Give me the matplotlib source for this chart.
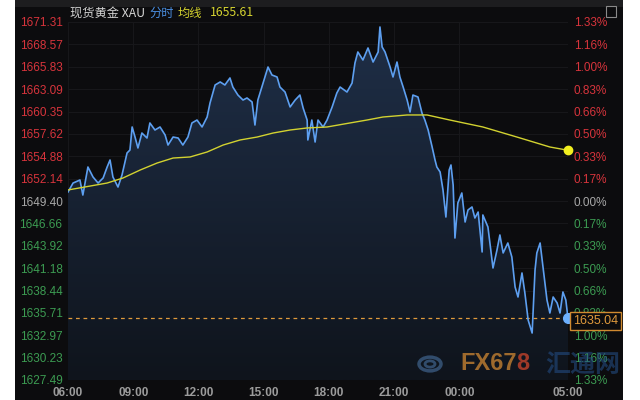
import matplotlib
matplotlib.use("Agg")
import matplotlib.pyplot as plt
import numpy as np
from matplotlib.colors import LinearSegmentedColormap
from matplotlib.patches import Rectangle, Circle

# ---------------- data ----------------
minutes = [0, 14, 33, 41, 55, 69, 83, 97, 108, 116, 124, 138, 149, 163, 171, 177, 185, 193,
           204, 218, 226, 240, 254, 268, 276, 290, 304, 317, 331, 342, 356, 370, 384, 392,
           406, 420, 433, 447, 455, 469, 483, 494, 508, 516, 524, 535, 552, 563, 577, 585,
           599, 613, 627, 640, 649, 660, 662, 673, 682, 690, 704, 715, 729, 742, 751, 770,
           784, 792, 800, 814, 828, 842, 856, 861, 867, 875, 889, 897, 908, 916, 925, 936,
           944, 952, 966, 977, 985, 994, 1005, 1013, 1018, 1027, 1035, 1043, 1052, 1057,
           1063, 1068, 1076, 1087, 1096, 1104, 1115, 1123, 1132, 1143, 1145, 1159, 1173,
           1184, 1192, 1201, 1214, 1225, 1234, 1242, 1253, 1261, 1270, 1281, 1289, 1294,
           1303, 1311, 1322, 1330, 1339, 1350, 1358, 1366, 1374, 1380]
price = [1650.50, 1651.60, 1651.97, 1650.13, 1653.56, 1652.34, 1651.60, 1652.22, 1653.56,
         1654.42, 1652.34, 1651.11, 1652.58, 1655.28, 1655.64, 1658.46, 1657.23, 1655.89,
         1657.72, 1657.11, 1658.95, 1658.09, 1658.46, 1657.48, 1656.25, 1657.23, 1657.11,
         1656.25, 1657.23, 1658.95, 1659.31, 1658.46, 1659.68, 1661.40, 1663.60, 1663.97,
         1663.60, 1664.46, 1663.35, 1662.37, 1661.76, 1662.01, 1661.52, 1658.70, 1661.76,
         1663.35, 1665.80, 1664.82, 1664.58, 1663.35, 1662.74, 1660.91, 1661.76, 1662.37,
         1660.78, 1659.31, 1656.87, 1659.31, 1656.62, 1659.31, 1658.46, 1659.31, 1660.91,
         1662.62, 1663.35, 1662.74, 1663.84, 1666.29, 1667.64, 1666.66, 1668.13, 1666.41,
         1667.64, 1670.70, 1668.25, 1667.64, 1665.80, 1664.58, 1666.41, 1664.58, 1663.35,
         1661.76, 1660.29, 1662.37, 1662.13, 1660.17, 1659.31, 1658.09, 1656.01, 1654.42,
         1653.56, 1652.95, 1650.75, 1647.44, 1653.19, 1653.81, 1651.36, 1644.87, 1649.16,
         1650.38, 1646.83, 1648.30, 1648.67, 1647.32, 1648.05, 1643.16, 1647.69, 1646.22,
         1641.20, 1643.40, 1645.24, 1643.04, 1644.26, 1642.55, 1638.87, 1637.65, 1640.59,
         1638.14, 1634.83, 1633.24, 1640.95, 1643.04, 1644.26, 1641.32, 1637.28, 1635.69,
         1637.65, 1636.92, 1635.69, 1638.26, 1637.28, 1635.04]

avg_minutes = [0, 108, 152, 199, 246, 290, 337, 384, 428, 475, 522, 566, 613, 660, 715,
               778, 825, 869, 936, 991, 1054, 1145, 1239, 1330, 1380]
avg_price = [1650.75, 1651.60, 1652.22, 1653.19, 1654.05, 1654.66, 1654.79, 1655.40,
             1656.25, 1656.87, 1657.23, 1657.72, 1658.09, 1658.34, 1658.46, 1658.95,
             1659.31, 1659.68, 1659.93, 1659.93, 1659.31, 1658.46, 1657.23, 1656.01, 1655.61]

y_ticks = [1671.31, 1668.57, 1665.83, 1663.09, 1660.35, 1657.62, 1654.88, 1652.14, 1649.40,
           1646.66, 1643.92, 1641.18, 1638.44, 1635.71, 1632.97, 1630.23, 1627.49]
pct_labels = ["1.33%", "1.16%", "1.00%", "0.83%", "0.66%", "0.50%", "0.33%", "0.17%", "0.00%",
              "0.17%", "0.33%", "0.50%", "0.66%", "0.83%", "1.00%", "1.16%", "1.33%"]
prev_close = 1649.40
x_tick_pos = [0, 180, 360, 540, 720, 900, 1080, 1380]
x_tick_labels = ["06:00", "09:00", "12:00", "15:00", "18:00", "21:00", "00:00", "05:00"]
last_price = 1635.04
avg_last = 1655.61

# ---------------- figure ----------------
W, H = 640, 400
fig = plt.figure(figsize=(W / 100, H / 100), dpi=100, facecolor="white")
BG = "#0c0c0e"
fig.patches.append(Rectangle((15 / W, 0), (623 - 15) / W, 1, transform=fig.transFigure,
                             facecolor=BG, edgecolor="none", zorder=-10))
fig.patches.append(Rectangle((15 / W, 1 - 7 / H), (623 - 15) / W, 7 / H, transform=fig.transFigure,
                             facecolor="#1d1d1f", edgecolor="none", zorder=-9))

ax = fig.add_axes([68 / W, 1 - 380 / H, 500 / W, 358 / H])
ax.set_facecolor(BG)
ymin, ymax = 1627.49, 1671.31
ax.set_xlim(0, 1380)
ax.set_ylim(ymin, ymax)
for s in ax.spines.values():
    s.set_visible(False)

# grid
for yv in y_ticks:
    ax.axhline(yv, color="#17171a", lw=0.8, zorder=0)
for xv in x_tick_pos:
    ax.axvline(xv, color="#17171a", lw=0.8, zorder=0)

# gradient fill under price
poly = ax.fill_between(minutes, price, ymin, facecolor="none", edgecolor="none")
cmap = LinearSegmentedColormap.from_list("g", ["#0f141c", "#1f2f48"])
grad = np.linspace(0, 1, 256).reshape(-1, 1)
im = ax.imshow(grad, extent=[0, 1380, ymin, ymax], aspect="auto", cmap=cmap,
               origin="lower", zorder=1)
im.set_clip_path(poly.get_paths()[0], transform=ax.transData)

ax.plot(minutes, price, color="#5d9ff0", lw=1.2, zorder=3)
ax.plot(avg_minutes, avg_price, color="#d2d230", lw=1.0, zorder=4)
ax.axhline(last_price, color="#e09a3c", lw=0.9, ls=(0, (3, 3)), zorder=2)
ax.plot([minutes[-1]], [price[-1]], "o", ms=7, color="#6cb0ff", zorder=6, clip_on=False)
ax.plot([avg_minutes[-1]], [avg_price[-1]], "o", ms=6, color="#f2f020", zorder=6, clip_on=False)

font = "Liberation Sans"
ax.set_yticks(y_ticks)
ax.set_yticklabels([f"{v:.2f}" for v in y_ticks], fontsize=8.5, family=font)
ax.tick_params(axis="y", length=0, pad=4)


def colorize(labels):
    for lbl, v in zip(labels, y_ticks):
        if v > prev_close + 0.001:
            lbl.set_color("#d8343c")
        elif v < prev_close - 0.001:
            lbl.set_color("#3c9c52")
        else:
            lbl.set_color("#a8a8a8")


colorize(ax.get_yticklabels())

ax.set_xticks(x_tick_pos)
ax.set_xticklabels(x_tick_labels, fontsize=8.5, family=font, color="#9c9c9c", fontweight="bold")
ax.tick_params(axis="x", length=0, pad=5)

ax2 = ax.twinx()
ax2.set_ylim(ymin, ymax)
for s in ax2.spines.values():
    s.set_visible(False)
ax2.set_yticks(y_ticks)
ax2.set_yticklabels(pct_labels, fontsize=8.5, family=font)
ax2.tick_params(axis="y", length=0, pad=4)
colorize(ax2.get_yticklabels())

# last price box
ax2.annotate(f"{last_price:.2f}", xy=(1.0, last_price - 0.35), xycoords=("axes fraction", "data"),
             xytext=(3.5, 0), textcoords="offset points", ha="left", va="center",
             fontsize=9, family=font, color="#e09a3c", zorder=10, annotation_clip=False,
             bbox=dict(boxstyle="square,pad=0.25", facecolor=BG, edgecolor="#d08a30", lw=1))

# title
cjk = ["Noto Sans CJK SC", "DejaVu Sans"]
fig.canvas.draw()
r = fig.canvas.get_renderer()
x0 = 70 / W
ty = 1 - 13 / H
parts = [("现货黄金 XAU", "#d4d4d4"), ("分时", "#4a8ee0"), ("均线", "#d4d230"),
         (f"{avg_last:.2f}", "#d4d230")]
for i, (txt, col) in enumerate(parts):
    t = fig.text(x0, ty, txt, color=col, fontsize=8.8, family=cjk, va="center", ha="left")
    bb = t.get_window_extent(renderer=r)
    x0 = bb.x1 / W + (8 if i == 2 else 4) / W

# top-right icon
fig.patches.append(Rectangle((606 / W, 1 - 17 / H), 10 / W, 11 / H, transform=fig.transFigure,
                             facecolor="none", edgecolor="#8a8a8a", lw=0.8))

# watermark
fig.patches.append(Circle((430 / W, 1 - 364 / H), 11 / W, transform=fig.transFigure,
                          facecolor="none", edgecolor="#3a5a80", lw=2.5, alpha=0.8))
fig.patches.append(Circle((430 / W, 1 - 364 / H), 5 / W, transform=fig.transFigure,
                          facecolor="none", edgecolor="#3a5a80", lw=2, alpha=0.8))
t1 = fig.text(460 / W, 1 - 364 / H, "FX67", color="#b87a30", fontsize=17, fontweight="bold",
              family=font, va="center", ha="left", alpha=0.85)
bb = t1.get_window_extent(renderer=r)
fig.text(bb.x1 / W, 1 - 364 / H, "8", color="#b8402a", fontsize=17, fontweight="bold",
         family=font, va="center", ha="left", alpha=0.85)
fig.text(545 / W, 1 - 365 / H, "汇通网", color="#24508a", fontsize=18, fontweight="bold",
         family=cjk, va="center", ha="left", alpha=0.55, zorder=5)

fig.savefig("out.png", dpi=100, facecolor="white")
